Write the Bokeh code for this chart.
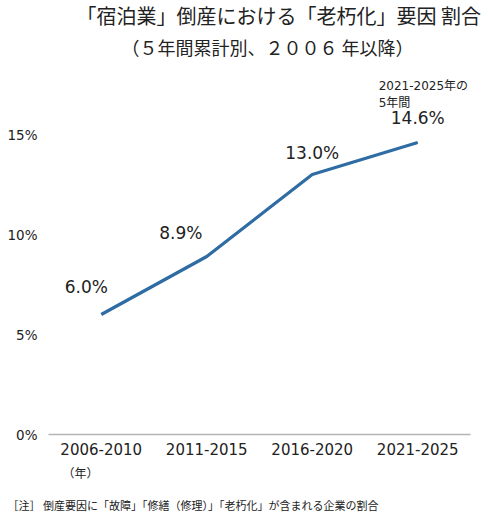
from bokeh.plotting import figure
from bokeh.models import FactorRange, Range1d, FixedTicker, Label, ColumnDataSource, Title
from bokeh.core.properties import value
from bokeh.embed import file_html
from bokeh.resources import INLINE

periods = ["2006-2010", "2011-2015", "2016-2020", "2021-2025"]
share = [6.0, 8.9, 13.0, 14.6]
value_labels = ["6.0%", "8.9%", "13.0%", "14.6%"]
y_ticks = [0, 5, 10, 15]
y_tick_labels = {0: "0%", 5: "5%", 10: "10%", 15: "15%"}

title_text = "「宿泊業」倒産における「老朽化」要因 割合"
subtitle_text = "（５年間累計別、２００６ 年以降）"
note_text = "［注］ 倒産要因に「故障」「修繕（修理）」「老朽化」が含まれる企業の割合"
unit_text = "（年）"
annot_lines = ["2021-2025年の", "5年間"]

JP = "Noto Sans CJK JP"
MIX = "DejaVu Sans, Noto Sans CJK JP"
TXT = "#222222"
LINE_COLOR = "#2f6ca3"

p = figure(frame_width=422, frame_height=371, x_range=FactorRange(*periods, range_padding=0),
           y_range=Range1d(0, 18.55), output_backend="svg", toolbar_location=None,
           title=None, min_border_left=48, min_border_right=16, min_border_top=0,
           min_border_bottom=0)
p.outline_line_color = None
p.grid.visible = False

# y axis
p.yaxis.ticker = FixedTicker(ticks=y_ticks)
p.yaxis.major_label_overrides = y_tick_labels
p.yaxis.axis_line_color = None
p.yaxis.major_tick_line_color = None
p.yaxis.minor_tick_line_color = None
p.yaxis.major_tick_out = 0
p.yaxis.major_tick_in = 0
p.yaxis.major_label_standoff = 11
p.yaxis.major_label_text_font = MIX
p.yaxis.major_label_text_font_size = "13.5px"
p.yaxis.major_label_text_color = TXT

# x axis
p.xaxis.axis_line_color = "#b4b4b4"
p.xaxis.axis_line_width = 1.5
p.xaxis.major_tick_line_color = None
p.xaxis.minor_tick_line_color = None
p.xaxis.major_tick_out = 0
p.xaxis.major_tick_in = 0
p.xaxis.major_label_standoff = 8
p.xaxis.major_label_text_font = MIX
p.xaxis.major_label_text_font_size = "15px"
p.xaxis.major_label_text_color = TXT

src = ColumnDataSource(dict(x=periods, y=share, t=value_labels,
                            dx=[-15, -26, 0, 0], dy=[-18, -14, -12, -15]))
p.line("x", "y", source=src, line_color=LINE_COLOR, line_width=3.2)
p.text("x", "y", text="t", source=src, x_offset="dx", y_offset="dy",
       text_align="center", text_baseline="bottom", text_font=value(MIX),
       text_font_size="17px", text_color=TXT)

for i, line in enumerate(annot_lines):
    p.add_layout(Label(x=3.13, y=17.45 - 0.85 * i, text=line, text_font=MIX,
                       text_font_size="12px", text_align="left", text_baseline="middle",
                       text_color=TXT))

# titles above (closest first)
p.add_layout(Title(text=subtitle_text, text_font=JP, text_font_size="18px",
                   text_font_style="normal", text_color=TXT, align="left", offset=73,
                   standoff=7), "above")
p.add_layout(Title(text=title_text, text_font=JP, text_font_size="20px",
                   text_font_style="normal", text_color=TXT, align="left", offset=28,
                   standoff=-3), "above")
# below the axis
p.add_layout(Title(text=unit_text, text_font=JP, text_font_size="12px",
                   text_font_style="normal", text_color=TXT, align="left", offset=14,
                   standoff=8), "below")
p.add_layout(Title(text=note_text, text_font=JP, text_font_size="11px",
                   text_font_style="normal", text_color=TXT, align="left", offset=-41,
                   standoff=20), "below")

open("out.html", "w").write(file_html(p, INLINE))
